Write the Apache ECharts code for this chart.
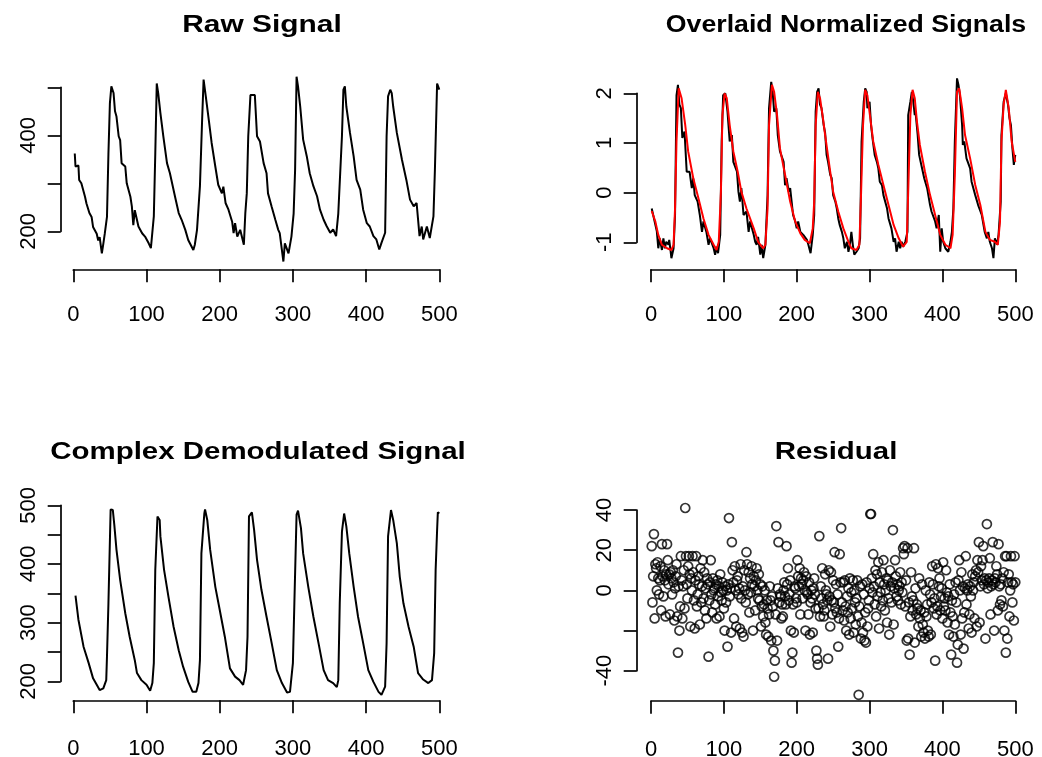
<!DOCTYPE html>
<html><head><meta charset="utf-8">
<script src="https://cdn.jsdelivr.net/npm/echarts@6/dist/echarts.min.js"></script>
<style>html,body{margin:0;padding:0;background:#fff}#c{width:1042px;height:757px}</style>
</head><body><div id="c"></div>
<script>
// ---- Panel 1: Raw Signal (sample index, value)
const rawX = [2,3,7,8,11,16,18,22,25,27,32,34,36,39,41,43,46,48,50,52,55,57,59,62,64,66,71,73,78,80,82,84,89,94,98,103,106,110,112,114,116,119,123,128,132,139,144,148,153,157,164,166,169,173,176,178,181,185,189,194,198,203,205,208,212,217,219,221,224,228,233,235,237,239,242,248,251,255,260,264,266,271,276,280,282,287,289,294,298,301,303,305,307,310,314,319,323,328,333,337,342,346,351,355,359,362,367,369,371,373,378,383,387,392,396,401,405,410,414,418,421,426,428,430,433,435,437,442,449,455,460,465,469,473,476,478,483,487,492,494,497,500];
const rawY = [362,335,337,307,300,272,258,238,230,209,195,181,188,154,174,195,230,362,467,502,488,450,439,398,390,342,335,300,272,252,213,244,210,196,189,175,165,231,362,508,488,446,398,342,321,272,238,224,203,182,161,172,203,294,433,516,481,433,384,335,297,279,293,259,245,220,196,217,189,203,172,238,279,398,484,484,398,387,342,321,279,251,224,203,196,137,175,154,189,237,328,522,502,460,391,356,321,294,273,245,224,211,197,204,190,237,398,495,502,460,405,356,307,287,245,217,210,190,183,162,176,197,398,481,495,488,460,405,349,307,266,252,259,190,210,183,210,186,231,328,508,495];

// ---- Panel 2: Overlaid Normalized Signals
const normX = [1,3,8,10,12,15,17,19,21,24,25,27,28,31,33,35,37,39,41,43,46,49,53,56,58,60,64,67,70,72,76,79,81,86,88,90,92,95,97,99,102,105,108,111,113,118,120,122,124,127,131,134,136,141,143,145,147,150,152,154,157,160,162,165,167,169,172,174,177,182,184,186,189,191,193,195,198,200,202,205,209,214,216,219,222,224,226,228,230,232,234,237,239,241,243,246,248,250,253,255,257,259,262,264,266,269,271,273,275,277,279,282,285,287,289,292,294,296,297,300,302,304,307,310,312,314,317,319,324,326,330,333,335,337,340,342,344,346,349,352,353,356,358,360,362,363,366,368,372,375,379,383,385,390,392,395,397,399,401,404,408,411,413,415,417,420,422,424,427,428,430,433,438,440,445,449,454,458,461,463,465,468,470,472,475,477,480,481,484,487,490,492,494,496,498,500];
const normY = [-0.32,-0.45,-0.78,-1.12,-0.92,-1.155,-0.92,-1.12,-0.99,-1.05,-0.95,-1.19,-1.32,-1.12,-0.45,1.96,2.17,1.77,1.7,1.1,1.23,0.42,0.42,0.09,0.29,-0.05,-0.18,-0.45,-0.79,-0.58,-0.79,-1.05,-0.92,-1.12,-1.25,-1.09,-1.22,-0.85,1.03,1.96,2.0,1.63,1.03,1.16,0.62,0.42,0.02,-0.18,0.09,-0.45,-0.38,-0.79,-0.58,-0.85,-0.99,-1.05,-0.89,-1.25,-1.05,-1.32,-1.05,-0.05,1.7,2.23,2.03,1.63,1.7,1.16,0.83,0.62,0.15,0.29,0.02,0.09,-0.18,-0.45,-0.58,-0.72,-0.58,-0.79,-0.85,-0.95,-1.05,-1.22,-0.85,-0.45,1.63,2.03,2.1,1.77,1.7,1.36,1.2,0.76,0.62,0.36,0.29,-0.05,-0.18,-0.32,-0.52,-0.65,-0.79,-0.92,-1.12,-0.99,-1.19,-1.05,-0.79,-1.05,-1.25,-1.19,-1.12,-0.92,1.03,1.83,2.1,2.03,1.7,1.83,1.36,1.1,0.76,0.62,0.49,0.22,0.15,-0.05,-0.32,-0.52,-0.72,-0.99,-0.92,-1.19,-0.99,-1.12,-0.99,-1.09,-0.99,-0.79,1.56,1.83,2.03,1.83,1.56,1.63,1.16,0.76,0.49,0.29,0.09,-0.25,-0.38,-0.58,-0.72,-0.45,-1.19,-0.72,-0.99,-1.12,-1.19,-0.99,-0.79,-0.32,1.03,2.3,2.17,1.96,1.36,0.96,1.03,0.69,0.49,0.22,-0.05,-0.25,-0.45,-0.79,-0.92,-0.79,-0.99,-1.12,-1.32,-0.92,-1.05,-0.85,-0.18,1.16,1.83,2.0,1.77,1.5,1.36,0.9,0.56,0.76];
const smoothNormX = [1,6,10,15,22,28,31,33,35,38,40,42,47,51,58,65,72,79,86,90,93,96,98,101,104,108,113,119,124,131,141,147,154,157,160,162,166,169,173,177,184,191,198,205,211,218,222,224,226,229,232,236,239,246,250,257,264,271,275,282,286,288,291,294,297,301,305,312,319,326,333,340,346,351,353,356,359,362,365,369,376,383,390,397,404,411,414,417,420,423,427,431,438,445,452,459,465,472,476,479,481,484,487,491,495,500];
const smoothNormY = [-0.37,-0.585,-0.85,-1.05,-1.12,-1.155,-1.05,-0.32,1.03,2.1,2.07,1.9,1.36,0.83,0.29,-0.11,-0.52,-0.85,-1.05,-1.155,-0.99,0.02,1.56,2.0,1.9,1.36,0.83,0.42,0.02,-0.32,-0.72,-0.99,-1.12,-1.05,-0.32,1.36,2.17,2.03,1.56,0.89,0.36,-0.18,-0.585,-0.82,-0.95,-1.02,-0.72,-0.18,1.36,2.03,1.9,1.5,1.16,0.42,0.02,-0.38,-0.72,-0.99,-1.12,-1.155,-1.05,-0.18,1.36,2.07,1.96,1.5,1.03,0.56,0.155,-0.25,-0.65,-0.92,-1.09,-0.99,0.02,1.56,2.07,1.9,1.43,0.96,0.42,-0.05,-0.45,-0.85,-1.05,-1.12,-0.85,0.35,2.03,2.1,1.7,1.16,0.69,0.155,-0.25,-0.79,-0.95,-0.99,-1.05,-0.585,1.03,1.77,2.07,1.7,1.03,0.62];

// ---- Panel 3: Complex Demodulated Signal
const demX = [3,7,14,21,27,32,36,41,45,46,48,51,54,56,59,64,71,77,84,87,93,100,105,108,110,112,115,118,119,124,130,137,144,150,157,163,168,171,173,175,179,180,183,187,194,200,207,214,221,227,232,236,238,240,244,247,251,257,264,271,278,285,292,296,300,302,305,307,311,314,321,328,335,342,348,355,360,362,364,367,370,373,377,383,389,396,403,410,417,421,426,428,430,434,437,442,446,451,458,465,471,478,485,490,493,495,497,498,500];
const demY = [346,305,259,231,205,194,185,188,202,242,333,493,492,467,424,373,316,276,236,214,202,194,184,197,231,390,481,475,447,390,344,293,253,225,199,182,182,197,236,418,486,493,475,424,361,322,276,222,208,202,194,219,276,481,488,458,407,356,310,265,219,197,181,182,231,333,484,491,461,418,361,310,265,219,202,197,190,202,333,455,486,464,418,361,310,265,219,199,182,177,191,265,447,492,475,435,378,333,293,259,214,203,197,202,248,390,458,488,486];

// ---- Panel 4: Residual (one value per sample 1..500)
const residual = [
22,-6,7,28,-14,13,11,0,14,6,-2,5,12,-10,23,7,-3,10,5,-13,
8,23,15,3,8,-12,9,6,-2,10,4,-15,1,7,13,-13,-31,2,-20,-8,
17,5,-14,2,10,-9,41,17,3,-4,12,17,8,-18,6,0,17,9,-5,-19,
5,17,-8,-2,7,3,-17,11,-6,2,15,-4,9,-10,1,-14,6,3,-33,-5,
4,15,-2,-11,6,0,1,-7,3,-14,5,-3,2,-13,8,-1,-5,4,0,-9,
-20,2,-6,0,-28,3,36,-3,1,-21,24,10,4,-14,12,0,-18,5,7,-2,
1,-19,13,-4,-21,2,-23,10,0,-6,19,13,-2,9,-11,6,-1,12,3,-20,
7,2,-10,5,11,0,-4,8,-5,3,-18,-8,2,-13,-7,0,-16,-22,-5,-9,
-23,-12,2,-5,-25,-3,-8,-30,-43,-35,-12,32,-25,1,24,-6,-2,-3,-14,-7,
-13,0,4,-3,-7,22,3,11,-5,-2,5,-20,-36,-31,-7,-21,2,1,-4,-6,
15,7,2,11,-12,6,3,-4,5,9,0,-20,7,-1,-2,-12,4,-22,-6,0,
-4,-21,1,6,-2,-9,-30,-34,-37,-9,27,-13,2,-4,11,-7,-13,-10,8,0,
-2,-5,-34,10,-3,-18,9,-5,-12,5,-6,19,-9,3,-11,-2,-28,-14,18,4,
31,-6,-10,4,-15,5,-8,-20,-3,-11,1,-22,6,-14,-1,-9,5,-21,0,-6,
-17,-4,5,-13,-52,-8,2,-24,-16,3,-21,-2,-25,-11,-26,4,-18,-9,-5,1,
38,38,6,-1,18,2,-7,10,-13,8,-3,14,-19,4,-1,-8,9,-5,15,3,
-10,0,6,-16,5,-4,-22,10,2,-6,4,30,-17,1,15,7,-3,3,-5,0,
2,9,-7,4,-1,21,18,22,-8,5,-25,21,-24,-6,-32,-13,9,-3,-10,-5,
21,-26,1,-12,-7,-9,-18,6,-14,-10,-23,3,-17,-21,-11,-24,0,-13,-7,-20,
-23,4,-2,-22,-6,12,3,-9,-4,-35,13,-12,-8,11,2,6,-10,-3,1,-14,
14,-8,-4,-10,10,-1,-16,-3,-22,3,-11,-32,-5,-13,-23,-2,-17,4,-6,-36,
-27,5,15,0,-22,9,-14,2,-29,-11,1,17,-7,0,3,-19,-12,2,-3,-21,
8,0,4,-14,7,10,-18,15,9,24,-16,2,12,5,15,22,3,6,-24,5,
33,1,4,6,16,-12,2,5,24,3,-20,6,4,12,8,-10,23,2,-7,3,
-5,6,-8,9,-20,17,-31,17,-24,4,8,-13,0,17,4,-6,3,-15,17,4];

// ---- Titles and tick labels
const titles = ['Raw Signal','Overlaid Normalized Signals','Complex Demodulated Signal','Residual'];
const xTicks = [0,100,200,300,400,500];
const yLabels1 = [200,400];
const yLabels3 = [200,300,400,500];
const yHidden4 = [-20];

const pairs = (xs, ys) => xs.map((x, i) => [x, ys[i]]);
const FONT = '"Liberation Sans", Arial, sans-serif';

const grids = [
  {left:73.3, top:87.3, width:366, height:144},
  {left:651, top:93.3, width:364.3, height:149},
  {left:73.3, top:505.3, width:366, height:176},
  {left:651, top:510, width:364.3, height:160.7}
].map(g => Object.assign({outerBoundsMode:'none', containLabel:false}, g));

const xOff = [38, 27, 19, 30];
const xMargin = [35, 35, 38, 38];
const yOff = [12.6, 14.3, 12.6, 14.3];
const yRange = [[200,500,100],[-1,2,1],[200,500,50],[-40,40,20]];
const yFmt = [
  v => yLabels1.includes(v) ? String(v) : '',
  v => String(v),
  v => yLabels3.includes(v) ? String(v) : '',
  v => yHidden4.includes(v) ? '' : String(v)
];
const axisLine = {show:true, onZero:false, lineStyle:{color:'#000', width:1.7}};
const axisTick = {show:true, inside:false, length:13, lineStyle:{color:'#000', width:1.7}};

const xAxis = grids.map((g, i) => ({
  type:'value', gridIndex:i, min:xTicks[0], max:xTicks[xTicks.length-1], interval:100,
  offset:xOff[i], axisLine, axisTick, splitLine:{show:false},
  axisLabel:{margin:xMargin[i], color:'#000', fontSize:22, fontFamily:FONT,
             showMinLabel:true, showMaxLabel:true}
}));
const yAxis = grids.map((g, i) => ({
  type:'value', gridIndex:i, min:yRange[i][0], max:yRange[i][1], interval:yRange[i][2],
  offset:yOff[i], axisLine, axisTick, splitLine:{show:false},
  axisLabel:{rotate:90, margin:21, color:'#000', fontSize:22, fontFamily:FONT,
             formatter:yFmt[i], showMinLabel:true, showMaxLabel:true}
}));

const lineS = (i, data, color) => ({
  type:'line', xAxisIndex:i, yAxisIndex:i, data, showSymbol:false, symbol:'none',
  clip:false, lineStyle:{color, width:2}, itemStyle:{color}, z:3
});

const series = [
  lineS(0, pairs(rawX, rawY), '#000'),
  lineS(1, pairs(normX, normY), '#000'),
  lineS(1, pairs(smoothNormX, smoothNormY), '#ff0000'),
  lineS(2, pairs(demX, demY), '#000'),
  {type:'scatter', xAxisIndex:3, yAxisIndex:3, clip:false,
   data: residual.map((v, i) => [i + 1, v]),
   symbol:'circle', symbolSize:9,
   itemStyle:{color:'rgba(0,0,0,0)', borderColor:'#000', borderWidth:1.7}}
];

const titlePos = [[262,26],[846,26],[258,453],[836,453]];
const titleScale = [1.3, 1.16, 1.28, 1.28];
const graphic = titles.map((t, i) => ({
  type:'text', x:titlePos[i][0], y:titlePos[i][1], scaleX:titleScale[i], silent:true,
  style:{text:t, fontSize:23, fontWeight:'bold', fontFamily:FONT, fill:'#000',
         align:'center', verticalAlign:'middle'}
}));

const chart = echarts.init(document.getElementById('c'), null, {renderer:'canvas'});
chart.setOption({
  animation:false, backgroundColor:'#fff',
  grid:grids, xAxis, yAxis, series, graphic
});
</script></body></html>
